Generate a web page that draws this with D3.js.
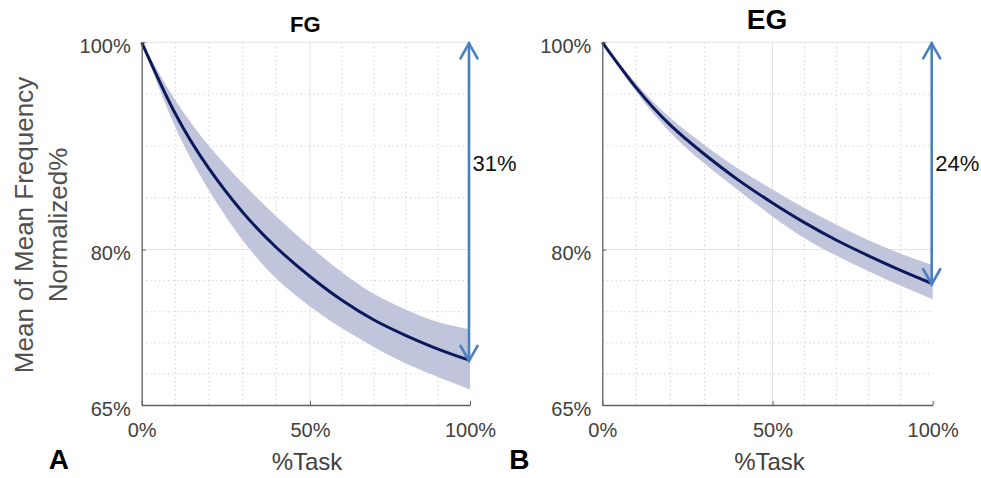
<!DOCTYPE html>
<html>
<head>
<meta charset="utf-8">
<script src="https://cdn.jsdelivr.net/npm/d3@7"></script>
<style>
    body { margin: 0; background: #fff; }
    svg { display: block; font-family: "Liberation Sans", Arial, sans-serif; }
</style>
</head>
<body>
<div id="chart"></div>
<script>
// %Task sample points
var taskPct = [0, 10, 20, 30, 40, 50, 60, 70, 80, 90, 100];

// FG group (panel A)
var fgMean  = [100, 93.1, 87.8, 83.6, 80.2, 77.4, 75.1, 73.2, 71.7, 70.4, 69.3];
var fgUpper = [100, 94.4, 90.0, 86.4, 83.2, 80.3, 77.8, 75.7, 74.2, 73.0, 72.3];
var fgLower = [100, 91.8, 85.7, 80.9, 77.2, 74.5, 72.4, 70.6, 69.0, 67.7, 66.5];

// EG group (panel B)
var egMean  = [100, 95.6, 92.0, 89.2, 86.7, 84.5, 82.6, 80.9, 79.4, 78.0, 76.7];
var egUpper = [100, 96.0, 92.7, 90.1, 87.8, 85.8, 84.0, 82.4, 80.9, 79.6, 78.5];
var egLower = [100, 95.2, 91.3, 88.3, 85.7, 83.2, 81.1, 79.4, 77.9, 76.5, 75.2];

var titles = ['FG', 'EG'];
var letters = ['A', 'B'];
var dropLabels = ['31%', '24%'];

var yMajorTicks = [65, 80, 100];
var yMinorTicks = [95, 90, 85, 77, 74, 71, 68];
var xMajorTicks = [0, 50, 100];
var xMinorTicks = [10, 20, 30, 40, 60, 70, 80, 90];

var svgWidth = 981;
var svgHeight = 478;

var svg = d3.select('#chart').append('svg')
    .attr('width', svgWidth)
    .attr('height', svgHeight);

var y = d3.scaleLinear().domain([65, 100]).range([405, 42.3]);

var panels = [
    { mean: fgMean, upper: fgUpper, lower: fgLower, xRange: [141.7, 310, 470], titleSize: 22, titleY: 32 },
    { mean: egMean, upper: egUpper, lower: egLower, xRange: [602.3, 772.5, 932.7], titleSize: 28, titleY: 28.5 }
];

function pctFmt(d) { return d + '%'; }

panels.forEach(function(p, i) {
    var x = d3.scaleLinear().domain([0, 50, 100]).range(p.xRange);
    var x0 = p.xRange[0], x1 = p.xRange[2];
    var g = svg.append('g');

    // grid
    g.selectAll('.ygrid-minor').data(yMinorTicks).enter().append('line')
        .attr('x1', x0).attr('x2', x1)
        .attr('y1', function(d) { return y(d); }).attr('y2', function(d) { return y(d); })
        .attr('stroke', '#c9c9c9').attr('stroke-dasharray', '1.2,3.2');
    g.selectAll('.xgrid-minor').data(xMinorTicks).enter().append('line')
        .attr('y1', y(100)).attr('y2', y(65))
        .attr('x1', function(d) { return x(d); }).attr('x2', function(d) { return x(d); })
        .attr('stroke', '#c9c9c9').attr('stroke-dasharray', '1.2,3.2');
    g.selectAll('.ygrid').data([80, 100]).enter().append('line')
        .attr('x1', x0).attr('x2', x1)
        .attr('y1', function(d) { return y(d); }).attr('y2', function(d) { return y(d); })
        .attr('stroke', '#e2e2e2');
    g.append('line')
        .attr('x1', x(50)).attr('x2', x(50)).attr('y1', y(100)).attr('y2', y(65))
        .attr('stroke', '#e2e2e2');

    // band and mean
    var rows = taskPct.map(function(t, k) {
        return { t: t, m: p.mean[k], hi: p.upper[k], lo: p.lower[k] };
    });
    var area = d3.area()
        .x(function(d) { return x(d.t); })
        .y0(function(d) { return y(d.lo); })
        .y1(function(d) { return y(d.hi); })
        .curve(d3.curveNatural);
    var line = d3.line()
        .x(function(d) { return x(d.t); })
        .y(function(d) { return y(d.m); })
        .curve(d3.curveNatural);
    g.append('path').datum(rows).attr('d', area).attr('fill', '#c1c5db');
    g.append('path').datum(rows).attr('d', line)
        .attr('fill', 'none').attr('stroke', '#0b1a5c').attr('stroke-width', 3);

    // axes
    var yAxis = d3.axisLeft(y).tickValues(yMajorTicks).tickFormat(pctFmt)
        .tickSizeInner(-4).tickSizeOuter(0).tickPadding(11);
    var xAxis = d3.axisBottom(x).tickValues(xMajorTicks).tickFormat(pctFmt)
        .tickSizeInner(-4).tickSizeOuter(0).tickPadding(18);

    var ya = g.append('g').attr('transform', 'translate(' + x0 + ',0)').call(yAxis);
    var xa = g.append('g').attr('transform', 'translate(0,' + y(65) + ')').call(xAxis);
    [ya, xa].forEach(function(a) {
        a.select('.domain').attr('stroke', '#606060').attr('stroke-width', 1.3);
        a.selectAll('.tick line').attr('stroke', '#606060');
        a.selectAll('.tick text').attr('fill', '#404040').style('font-size', '20px');
    });
    ya.selectAll('.tick text').attr('dy', '0.5em');

    // drop arrow
    var ax = x(100) - 1;
    var aTop = y(100) + 1;
    var aBot = y(p.mean[p.mean.length - 1]) + 0.5;
    var arrow = g.append('g').attr('stroke', '#4a7fc0').attr('stroke-width', 2.6)
        .attr('fill', 'none').attr('stroke-linecap', 'round');
    arrow.append('line').attr('x1', ax).attr('x2', ax).attr('y1', aTop).attr('y2', aBot);
    arrow.append('polyline').attr('points', [[ax - 8.5, aTop + 15], [ax, aTop], [ax + 8.5, aTop + 15]].join(' '));
    arrow.append('polyline').attr('points', [[ax - 8.5, aBot - 15], [ax, aBot], [ax + 8.5, aBot - 15]].join(' '));
    g.append('text').attr('x', ax + 3.5).attr('y', 171)
        .style('font-size', '22px').attr('fill', '#111').text(dropLabels[i]);

    // titles
    g.append('text').attr('x', (x0 + x1) / 2 - 0.5).attr('y', p.titleY)
        .attr('text-anchor', 'middle').style('font-size', p.titleSize + 'px').style('font-weight', 'bold')
        .text(titles[i]);
    g.append('text').attr('x', x(50) - 3).attr('y', 470)
        .attr('text-anchor', 'middle').style('font-size', '24px').attr('fill', '#404040')
        .text('%Task');
    g.append('text').attr('x', x0 - 93).attr('y', 469)
        .style('font-size', '28px').style('font-weight', 'bold')
        .text(letters[i]);
});

// y axis title (panel A only)
var yl = svg.append('g').attr('transform', 'translate(0,225) rotate(-90)')
    .style('font-size', '26px').attr('fill', '#505050').attr('text-anchor', 'middle');
yl.append('text').attr('x', 0).attr('y', 33).text('Mean of Mean Frequency');
yl.append('text').attr('x', 0).attr('y', 66.5).text('Normalized%');
</script>
</body>
</html>
